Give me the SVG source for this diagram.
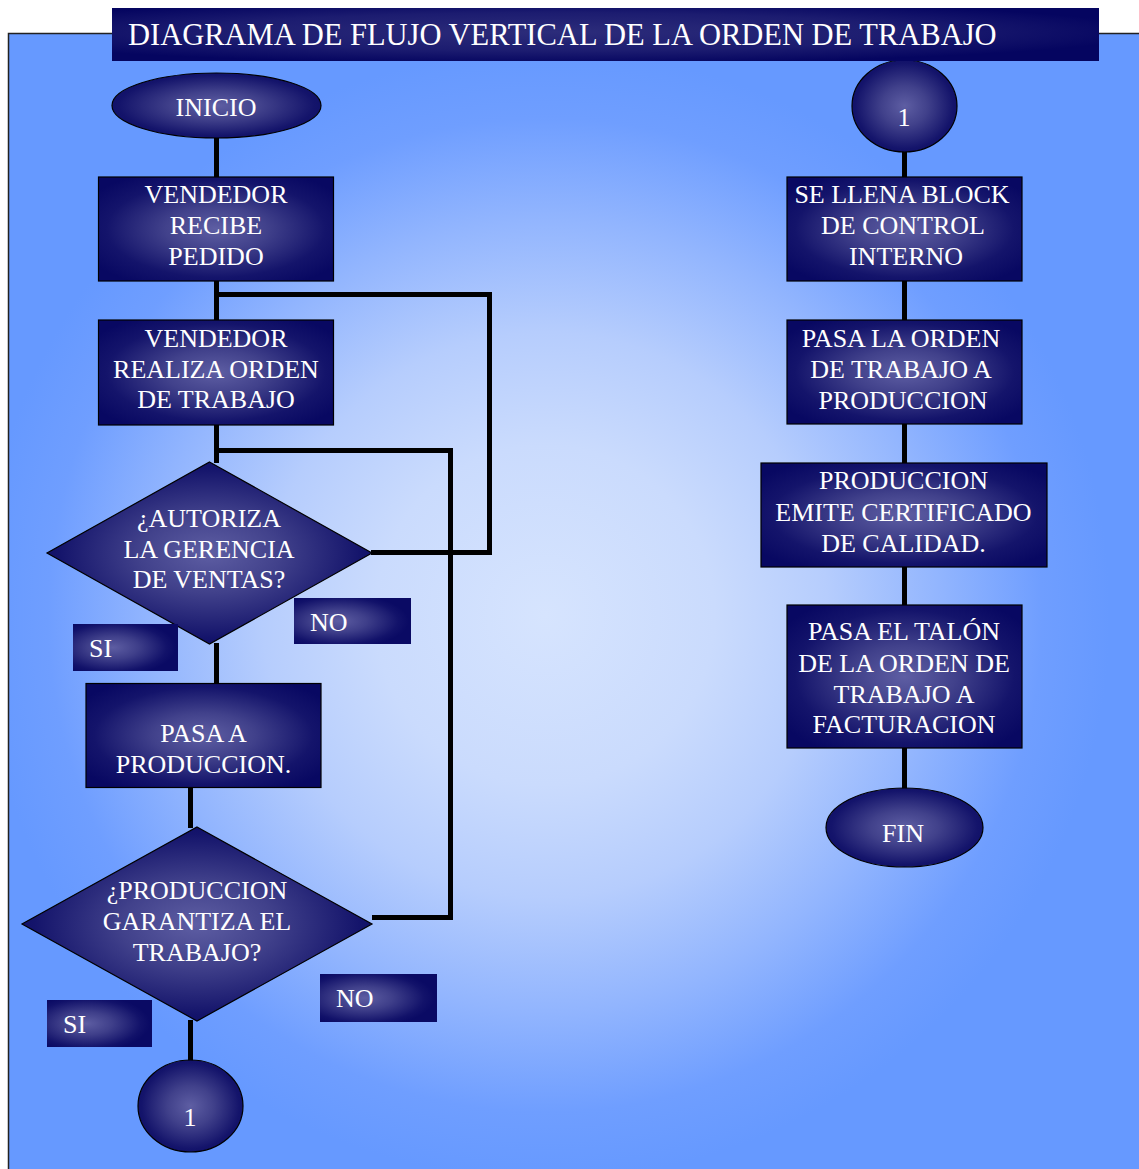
<svg xmlns="http://www.w3.org/2000/svg" width="1139" height="1169" viewBox="0 0 1139 1169">
  <defs>
    <radialGradient id="bgGrad" gradientUnits="userSpaceOnUse" cx="545" cy="615" r="565">
      <stop offset="0" stop-color="#d6e4fe"/>
      <stop offset="0.3" stop-color="#cadbfd"/>
      <stop offset="0.5" stop-color="#b6cdfd"/>
      <stop offset="0.7" stop-color="#92b5fe"/>
      <stop offset="0.88" stop-color="#6f9eff"/>
      <stop offset="1" stop-color="#6699ff"/>
    </radialGradient>
    <radialGradient id="nodeGrad" cx="0.5" cy="0.5" r="0.62">
      <stop offset="0" stop-color="#5e5ea3"/>
      <stop offset="0.35" stop-color="#41418b"/>
      <stop offset="0.75" stop-color="#14146b"/>
      <stop offset="1" stop-color="#080862"/>
    </radialGradient>
    <radialGradient id="tagGrad" cx="0.38" cy="0.5" r="0.6">
      <stop offset="0" stop-color="#5d5da2"/>
      <stop offset="0.4" stop-color="#3f3f8a"/>
      <stop offset="0.85" stop-color="#12126a"/>
      <stop offset="1" stop-color="#0a0a64"/>
    </radialGradient>
    <radialGradient id="titleGrad" cx="0.45" cy="0.45" r="0.6">
      <stop offset="0" stop-color="#2c2c7a"/>
      <stop offset="0.6" stop-color="#1c1c70"/>
      <stop offset="1" stop-color="#050560"/>
    </radialGradient>
    <style>
      .node { fill: url(#nodeGrad); stroke: #000; stroke-width: 1.2; }
      .tag { fill: url(#tagGrad); }
      .lbl { font-family: "Liberation Serif", "Times New Roman", serif; font-size: 26px; fill: #ffffff; text-anchor: middle; }
      .tagtxt { font-family: "Liberation Serif", "Times New Roman", serif; font-size: 26px; fill: #ffffff; }
      .wire { fill: none; stroke: #000; stroke-width: 5; stroke-linejoin: miter; stroke-linecap: butt; }
    </style>
  </defs>

  <!-- page frame with centre-lit blue fill -->
  <rect x="0" y="0" width="1139" height="1169" fill="#ffffff"/>
  <rect x="8.5" y="33.5" width="1140" height="1150" fill="url(#bgGrad)" stroke="#222" stroke-width="1.5"/>

  <!-- connectors -->
  <g id="connectors" class="wire">
    <line x1="216.5" y1="138" x2="216.5" y2="177"/>
    <line x1="216.5" y1="281" x2="216.5" y2="320"/>
    <line x1="216.5" y1="425" x2="216.5" y2="463"/>
    <line x1="216.5" y1="643" x2="216.5" y2="684"/>
    <line x1="190.5" y1="787" x2="190.5" y2="828"/>
    <line x1="190.5" y1="1020" x2="190.5" y2="1061"/>
    <polyline points="216.5,294.5 489.5,294.5 489.5,552.5 371,552.5"/>
    <polyline points="216.5,450.5 450.5,450.5 450.5,917.5 372,917.5"/>
    <line x1="904.5" y1="150" x2="904.5" y2="177"/>
    <line x1="904.5" y1="281" x2="904.5" y2="320"/>
    <line x1="904.5" y1="424" x2="904.5" y2="463"/>
    <line x1="904.5" y1="567" x2="904.5" y2="605"/>
    <line x1="904.5" y1="748" x2="904.5" y2="789"/>
  </g>

  <!-- left column -->
  <g id="inicio">
    <ellipse class="node" cx="216.5" cy="105.5" rx="104.5" ry="32.5"/>
    <text class="lbl" x="216" y="116">INICIO</text>
  </g>
  <g id="recibe-pedido">
    <rect class="node" x="98.5" y="177" width="235" height="104"/>
    <text class="lbl" x="216" y="203">VENDEDOR</text>
    <text class="lbl" x="216" y="234">RECIBE</text>
    <text class="lbl" x="216" y="265">PEDIDO</text>
  </g>
  <g id="realiza-orden">
    <rect class="node" x="98.5" y="320" width="235" height="105"/>
    <text class="lbl" x="216" y="347">VENDEDOR</text>
    <text class="lbl" x="216" y="378">REALIZA ORDEN</text>
    <text class="lbl" x="216" y="408">DE TRABAJO</text>
  </g>
  <g id="autoriza">
    <polygon class="node" points="209.5,462 372,553 209.5,644 47,553"/>
    <text class="lbl" x="209" y="527">¿AUTORIZA</text>
    <text class="lbl" x="209" y="558">LA GERENCIA</text>
    <text class="lbl" x="209" y="588">DE VENTAS?</text>
  </g>
  <g id="autoriza-no">
    <rect class="tag" x="294" y="598" width="117" height="46"/>
    <text class="tagtxt" x="310" y="631">NO</text>
  </g>
  <g id="autoriza-si">
    <rect class="tag" x="73" y="624" width="105" height="47"/>
    <text class="tagtxt" x="89" y="657">SI</text>
  </g>
  <g id="pasa-produccion">
    <rect class="node" x="86" y="683.5" width="235" height="104"/>
    <text class="lbl" x="203.5" y="742">PASA A</text>
    <text class="lbl" x="203.5" y="773">PRODUCCION.</text>
  </g>
  <g id="garantiza">
    <polygon class="node" points="197,827 372,924 197,1021 22,924"/>
    <text class="lbl" x="197" y="899">¿PRODUCCION</text>
    <text class="lbl" x="197" y="930">GARANTIZA EL</text>
    <text class="lbl" x="197" y="961">TRABAJO?</text>
  </g>
  <g id="garantiza-no">
    <rect class="tag" x="320" y="974" width="117" height="48"/>
    <text class="tagtxt" x="336" y="1007">NO</text>
  </g>
  <g id="garantiza-si">
    <rect class="tag" x="47" y="1000" width="105" height="47"/>
    <text class="tagtxt" x="63" y="1033">SI</text>
  </g>
  <g id="conector-1-salida">
    <ellipse class="node" cx="190.5" cy="1106" rx="52.5" ry="46"/>
    <text class="lbl" x="190" y="1126">1</text>
  </g>

  <!-- right column -->
  <g id="conector-1-entrada">
    <ellipse class="node" cx="904.5" cy="106" rx="52.5" ry="46"/>
    <text class="lbl" x="904" y="126">1</text>
  </g>
  <g id="block-control">
    <rect class="node" x="787" y="177" width="235" height="104"/>
    <text class="lbl" x="902" y="203">SE LLENA BLOCK</text>
    <text class="lbl" x="903" y="234">DE CONTROL</text>
    <text class="lbl" x="906" y="265">INTERNO</text>
  </g>
  <g id="orden-a-produccion">
    <rect class="node" x="787" y="320" width="235" height="104"/>
    <text class="lbl" x="901" y="347">PASA LA ORDEN</text>
    <text class="lbl" x="901" y="378">DE TRABAJO A</text>
    <text class="lbl" x="903" y="409">PRODUCCION</text>
  </g>
  <g id="certificado">
    <rect class="node" x="761" y="463" width="286" height="104"/>
    <text class="lbl" x="903.5" y="489">PRODUCCION</text>
    <text class="lbl" x="903.5" y="521">EMITE CERTIFICADO</text>
    <text class="lbl" x="903.5" y="552">DE CALIDAD.</text>
  </g>
  <g id="talon-facturacion">
    <rect class="node" x="787" y="605" width="235" height="143"/>
    <text class="lbl" x="904" y="640">PASA EL TALÓN</text>
    <text class="lbl" x="904" y="672">DE LA ORDEN DE</text>
    <text class="lbl" x="904" y="703">TRABAJO A</text>
    <text class="lbl" x="904" y="733">FACTURACION</text>
  </g>
  <g id="fin">
    <ellipse class="node" cx="904.5" cy="827.5" rx="78.5" ry="39.5"/>
    <text class="lbl" x="903" y="842">FIN</text>
  </g>

  <!-- title banner -->
  <g id="titulo">
    <rect x="112" y="8" width="987" height="53" fill="url(#titleGrad)"/>
    <text x="128" y="45" font-family="Liberation Serif, Times New Roman, serif" font-size="30.5" fill="#ffffff">DIAGRAMA DE FLUJO VERTICAL DE LA ORDEN DE TRABAJO</text>
  </g>
</svg>
